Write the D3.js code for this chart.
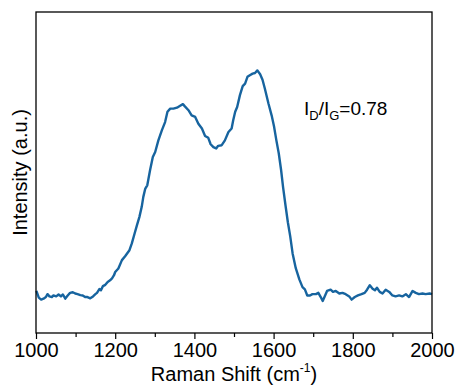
<!DOCTYPE html>
<html>
<head>
<meta charset="utf-8">
<script src="https://cdn.jsdelivr.net/npm/d3@7"></script>
<style>
  html, body { margin: 0; padding: 0; background: #fff; }
  svg { display: block; font-family: "Liberation Sans", Arial, sans-serif; }
</style>
</head>
<body>
<svg id="chart" width="456" height="387"></svg>
<script>
// Raman spectrum: wavenumber (cm^-1) and intensity (a.u.)
const shift = [
  1001,1007,1013,1019,1025,1029,1034,1040,1044,1051,1057,1063,1068,1074,1080,1086,1093,1099,
  1105,1112,1118,1124,1130,1137,1144,1150,1154,1160,1164,1169,1175,1181,1187,1192,1197,1200,
  1208,1217,1225,1236,1242,1249,1255,1261,1267,1271,1276,1281,1288,1295,1301,1309,1318,1326,
  1332,1339,1347,1356,1364,1371,1376,1385,1393,1402,1410,1419,1427,1435,1441,1448,1455,1460,
  1469,1477,1486,1494,1498,1503,1508,1515,1522,1528,1534,1540,1547,1553,1559,1566,1572,1578,
  1587,1595,1601,1607,1613,1619,1624,1630,1636,1642,1648,1656,1665,1673,1679,1685,1692,1698,
  1707,1713,1719,1724,1729,1735,1744,1750,1757,1766,1774,1782,1791,1797,1805,1813,1822,1830,
  1836,1843,1850,1856,1861,1868,1875,1883,1892,1900,1908,1917,1925,1934,1942,1951,1959,1967,
  1976,1984,1994,2000
];
const intensity = [
  131,110,104,107,112,121,114,112,117,114,120,114,120,107,117,125,127,123,
  121,118,117,112,112,108,114,121,125,137,133,146,150,159,164,170,180,190,
  201,227,239,258,279,310,336,361,393,424,450,460,507,548,564,600,632,657,
  689,699,699,702,708,713,706,694,678,673,652,637,614,608,588,579,575,583,
  585,600,626,637,663,689,704,741,769,777,798,803,808,810,818,806,789,761,
  715,678,644,600,560,507,454,398,345,301,248,202,167,143,136,117,117,121,
  121,125,112,100,114,131,135,128,131,123,125,121,114,104,112,117,121,125,
  135,149,138,133,141,128,123,135,128,117,114,117,114,121,112,131,125,121,
  123,121,123,121
];
const majorTicks = [1000, 1200, 1400, 1600, 1800, 2000];
const minorTicks = [1100, 1300, 1500, 1700, 1900];
const ratioLabel = { d: "D", g: "G", value: "0.78" };

const svg = d3.select("#chart");
const m = { left: 36, right: 432, top: 12, bottom: 333 };

const x = d3.scaleLinear().domain([1000, 2000]).range([m.left, m.right]);
const y = d3.scaleLinear().domain([0, 1000]).range([m.bottom, m.top]);

// spectrum trace
const line = d3.line().x((d, i) => x(shift[i])).y(d => y(d));
svg.append("path")
  .datum(intensity)
  .attr("d", line)
  .attr("fill", "none")
  .attr("stroke", "#17649f")
  .attr("stroke-width", 2.4)
  .attr("stroke-linejoin", "round");

// bottom axis: labelled major ticks + short minor ticks
const axisMajor = d3.axisBottom(x).tickValues(majorTicks).tickSize(6).tickPadding(4)
  .tickFormat(d3.format("d"));
const gx = svg.append("g").attr("transform", `translate(0,${m.bottom})`).call(axisMajor);
gx.select(".domain").remove();
gx.selectAll("line").attr("stroke", "#000").attr("stroke-width", 1.2);
gx.selectAll("text").attr("font-size", 20).attr("fill", "#000");

const axisMinor = d3.axisBottom(x).tickValues(minorTicks).tickSize(4).tickFormat("");
const gm = svg.append("g").attr("transform", `translate(0,${m.bottom})`).call(axisMinor);
gm.select(".domain").remove();
gm.selectAll("line").attr("stroke", "#000").attr("stroke-width", 1.2);

// frame
svg.append("rect")
  .attr("x", m.left).attr("y", m.top)
  .attr("width", m.right - m.left).attr("height", m.bottom - m.top)
  .attr("fill", "none").attr("stroke", "#000").attr("stroke-width", 1.3);

// axis titles
const xt = svg.append("text")
  .attr("x", (m.left + m.right) / 2).attr("y", 381)
  .attr("text-anchor", "middle").attr("font-size", 20).attr("fill", "#000");
xt.append("tspan").text("Raman Shift (cm");
xt.append("tspan").attr("font-size", 12).attr("dy", -9).text("-1");
xt.append("tspan").attr("dy", 9).text(")");

svg.append("text")
  .attr("transform", `translate(26.5,${(m.top + m.bottom) / 2}) rotate(-90)`)
  .attr("text-anchor", "middle").attr("font-size", 20).attr("fill", "#000")
  .text("Intensity (a.u.)");

// intensity ratio annotation
const ann = svg.append("text").attr("x", 304).attr("y", 115)
  .attr("font-size", 19).attr("fill", "#000");
ann.append("tspan").text("I");
ann.append("tspan").attr("font-size", 13).attr("dy", 5).text(ratioLabel.d);
ann.append("tspan").attr("dy", -5).text("/I");
ann.append("tspan").attr("font-size", 13).attr("dy", 5).text(ratioLabel.g);
ann.append("tspan").attr("dy", -5).text("=" + ratioLabel.value);
</script>
</body>
</html>
